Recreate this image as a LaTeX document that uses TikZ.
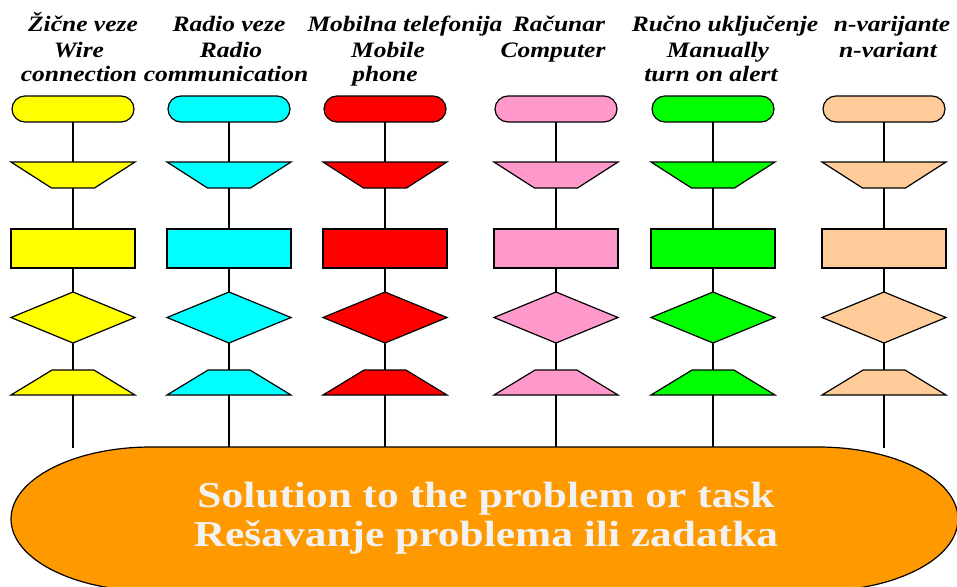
\documentclass[tikz,border=0pt]{standalone}
\usepackage{fontspec}
\setmainfont{Liberation Serif}
\newfontfamily\hdrfont{Liberation Serif}[FakeStretch=1.16]
\newfontfamily\solfont{Liberation Serif}[FakeStretch=1.19]
\usetikzlibrary{shapes.geometric,shapes.misc}
\definecolor{cyel}{HTML}{FFFF00}
\definecolor{ccyan}{HTML}{00FFFF}
\definecolor{cred}{HTML}{FF0000}
\definecolor{cpink}{HTML}{FF99CC}
\definecolor{cgreen}{HTML}{00FF00}
\definecolor{cpeach}{HTML}{FFCC99}
\definecolor{corange}{HTML}{FF9900}
\definecolor{ctxt}{HTML}{F2F2F2}
\begin{document}
\begin{tikzpicture}[x=1pt,y=-1pt,
  shp/.style={draw=black, line width=1.2pt, inner sep=1pt, outer sep=0pt},
  term/.style={shp, rounded rectangle, minimum width=124pt, minimum height=26pt},
  invtrap/.style={shp, trapezium, trapezium angle=46.7, trapezium stretches=true, minimum width=124pt, minimum height=26pt, shape border rotate=180},
  proc/.style={shp, rectangle, minimum width=124pt, minimum height=39pt},
  dec/.style={shp, diamond, aspect=2.4, minimum width=124pt, minimum height=51pt},
  uptrap/.style={shp, trapezium, trapezium angle=45.5, trapezium stretches=true, minimum width=124pt, minimum height=25pt},
  conn/.style={line width=1.2pt},
  hdr/.style={anchor=base, inner sep=0pt, font=\fontsize{22}{25}\hdrfont\bfseries\itshape},
  sol/.style={anchor=base, inner sep=0pt, text=ctxt, font=\fontsize{36.5}{40}\solfont\bfseries}
]
\path[use as bounding box, clip] (0,0) rectangle (957,586);
\fill[white] (0,0) rectangle (957,586);

% column headers
\node[hdr] (h11) at (83,32) {Žične veze};
\node[hdr] (h12) at (79,57) {Wire};
\node[hdr] (h13) at (79,81) {connection};
\node[hdr] (h21) at (229,32) {Radio veze};
\node[hdr] (h22) at (231,57) {Radio};
\node[hdr] (h23) at (226,81) {communication};
\node[hdr] (h31) at (405,32) {Mobilna telefonija};
\node[hdr] (h32) at (388,57) {Mobile};
\node[hdr] (h33) at (385,81) {phone};
\node[hdr] (h41) at (559,32) {Računar};
\node[hdr] (h42) at (553,57) {Computer};
\node[hdr] (h51) at (725,32) {Ručno uključenje};
\node[hdr] (h52) at (718,57) {Manually};
\node[hdr] (h53) at (711,81) {turn on alert};
\node[hdr] (h61) at (892,32) {n-varijante};
\node[hdr] (h62) at (888,57) {n-variant};

% columns of flowchart shapes
\foreach \x/\c [count=\i] in {73/cyel, 229/ccyan, 385/cred, 556/cpink, 713/cgreen, 884/cpeach}{
  \node[term, fill=\c] (t\i) at (\x,109) {};
  \node[invtrap, fill=\c] (a\i) at (\x,175) {};
  \node[proc, fill=\c] (r\i) at (\x,248.5) {};
  \node[dec, fill=\c] (d\i) at (\x,317.5) {};
  \node[uptrap, fill=\c] (b\i) at (\x,382.5) {};
  \coordinate (e\i) at (\x,448);
  \draw[conn] (t\i) -- (a\i);
  \draw[conn] (a\i) -- (r\i);
  \draw[conn] (r\i) -- (d\i);
  \draw[conn] (d\i) -- (b\i);
  \draw[conn] (b\i) -- (e\i);
}

% solution shape
\draw[line width=1.2pt, fill=corange]
  (11,519) arc[start angle=180, end angle=270, x radius=140, y radius=72]
  -- (818,447) arc[start angle=270, end angle=360, x radius=140, y radius=72]
  arc[start angle=0, end angle=90, x radius=140, y radius=72]
  -- (151,591) arc[start angle=90, end angle=180, x radius=140, y radius=72]
  -- cycle;
\node[sol] (s1) at (486,507) {Solution to the problem or task};
\node[sol] (s2) at (486,546) {Rešavanje problema ili zadatka};
\end{tikzpicture}
\end{document}
